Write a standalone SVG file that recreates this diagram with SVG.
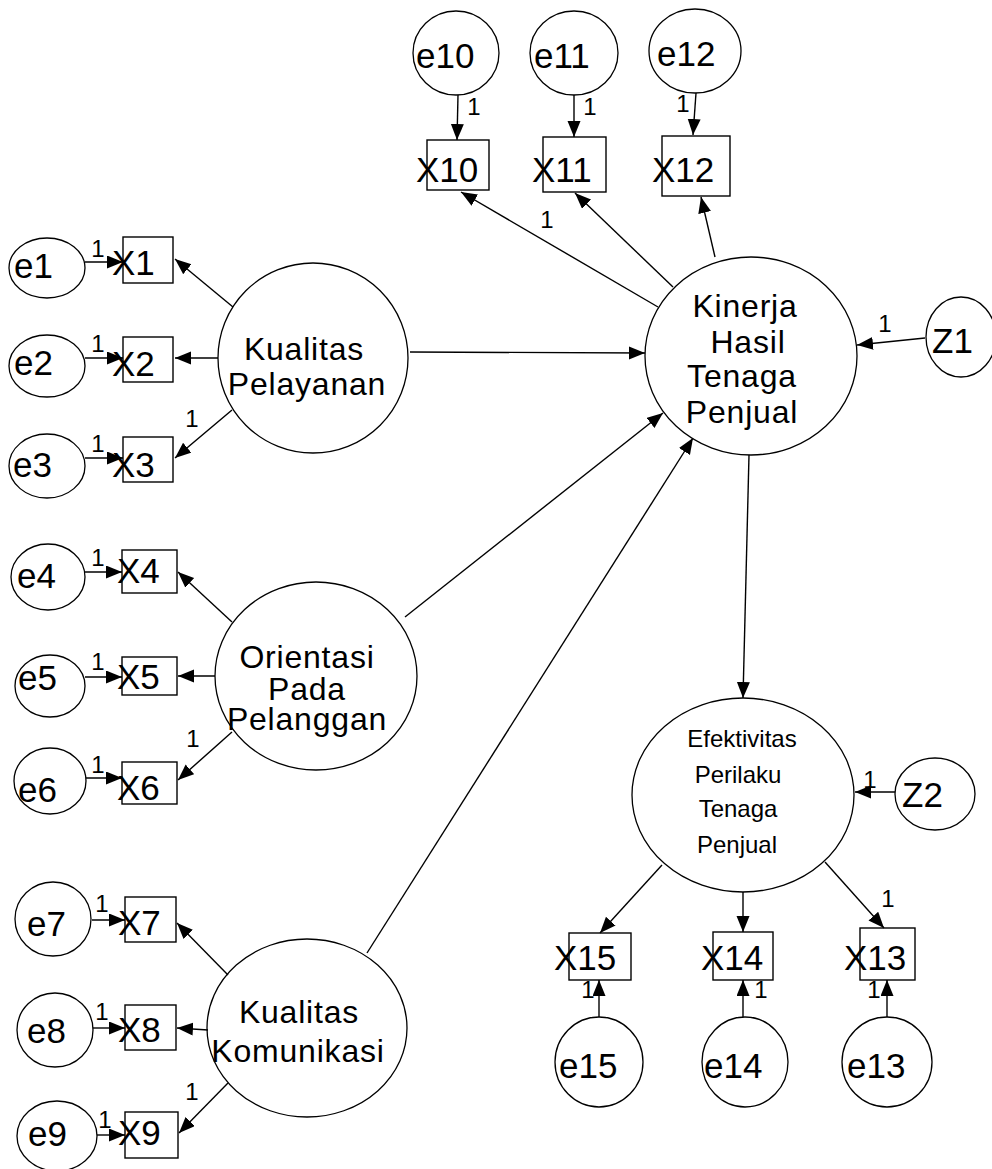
<svg xmlns="http://www.w3.org/2000/svg" width="992" height="1169" viewBox="0 0 992 1169">
  <style>
    .bg { fill: #ffffff; }
    .lat { fill: none; stroke: #000; stroke-width: 1.3; }
    .obs { fill: none; stroke: #000; stroke-width: 1.4; }
    .lbl { font-family: "Liberation Sans", Arial, sans-serif; font-size: 35px; fill: #000; }
    .big { font-family: "Liberation Sans", Arial, sans-serif; font-size: 32px; letter-spacing: 0.8px; fill: #000; text-anchor: middle; }
    .sm { font-family: "Liberation Sans", Arial, sans-serif; font-size: 24px; fill: #000; text-anchor: middle; }
    .one { font-family: "Liberation Sans", Arial, sans-serif; font-size: 24px; fill: #000; text-anchor: middle; }
    .edge { fill: none; stroke: #000; stroke-width: 1.4; marker-end: url(#arr); }
  </style>
  <defs>
    <marker id="arr" markerUnits="userSpaceOnUse" markerWidth="18" markerHeight="14" refX="16" refY="6.5" orient="auto">
      <path d="M0,0 L16,6.5 L0,13 z" fill="#000"/>
    </marker>
  </defs>
  <rect class="bg" x="0" y="0" width="992" height="1169"/>

  <!-- connectors -->
  <g id="connectors">
    <!-- error terms to indicators -->
    <line class="edge" x1="85" y1="262" x2="123" y2="262"/>
    <line class="edge" x1="85" y1="358" x2="123" y2="358"/>
    <line class="edge" x1="85" y1="458" x2="123" y2="458"/>
    <line class="edge" x1="85" y1="572" x2="122" y2="572"/>
    <line class="edge" x1="85" y1="677" x2="122" y2="677"/>
    <line class="edge" x1="86" y1="778" x2="122" y2="778"/>
    <line class="edge" x1="92" y1="920" x2="125" y2="920"/>
    <line class="edge" x1="93" y1="1028" x2="125" y2="1028"/>
    <line class="edge" x1="97" y1="1135" x2="125" y2="1135"/>
    <line class="edge" x1="458" y1="95" x2="457" y2="140"/>
    <line class="edge" x1="574" y1="95" x2="574" y2="137"/>
    <line class="edge" x1="696" y1="93" x2="693" y2="135"/>
    <line class="edge" x1="599" y1="1017" x2="599" y2="980"/>
    <line class="edge" x1="743" y1="1017" x2="743" y2="980"/>
    <line class="edge" x1="887" y1="1017" x2="887" y2="980"/>
    <!-- loadings -->
    <line class="edge" x1="233" y1="307" x2="175" y2="259"/>
    <line class="edge" x1="218" y1="358" x2="175" y2="358"/>
    <line class="edge" x1="232" y1="410" x2="175" y2="458"/>
    <line class="edge" x1="232" y1="622" x2="178" y2="572"/>
    <line class="edge" x1="215" y1="676" x2="178" y2="676"/>
    <line class="edge" x1="232" y1="732" x2="178" y2="780"/>
    <line class="edge" x1="228" y1="975" x2="177" y2="923"/>
    <line class="edge" x1="208" y1="1030" x2="177" y2="1028"/>
    <line class="edge" x1="228" y1="1083" x2="179" y2="1133"/>
    <line class="edge" x1="658" y1="307" x2="461" y2="192"/>
    <line class="edge" x1="673" y1="287" x2="575" y2="193"/>
    <line class="edge" x1="715" y1="257" x2="701" y2="197"/>
    <line class="edge" x1="662" y1="865" x2="600" y2="933"/>
    <line class="edge" x1="743" y1="892" x2="743" y2="932"/>
    <line class="edge" x1="825" y1="862" x2="884" y2="928"/>
    <!-- structural paths -->
    <line class="edge" x1="410" y1="352" x2="645" y2="353"/>
    <line class="edge" x1="405" y1="617" x2="663" y2="413"/>
    <line class="edge" x1="367" y1="953" x2="693" y2="438"/>
    <line class="edge" x1="749" y1="455" x2="743" y2="698"/>
    <line class="edge" x1="925" y1="338" x2="857" y2="345"/>
    <line class="edge" x1="895" y1="792" x2="855" y2="792"/>
    <!-- fixed parameter labels -->
    <text class="one" x="98" y="257">1</text>
    <text class="one" x="98" y="352">1</text>
    <text class="one" x="98" y="452">1</text>
    <text class="one" x="192" y="427">1</text>
    <text class="one" x="98" y="566">1</text>
    <text class="one" x="98" y="670">1</text>
    <text class="one" x="98" y="773">1</text>
    <text class="one" x="193" y="747">1</text>
    <text class="one" x="102" y="912">1</text>
    <text class="one" x="102" y="1020">1</text>
    <text class="one" x="105" y="1128">1</text>
    <text class="one" x="192" y="1100">1</text>
    <text class="one" x="474" y="115">1</text>
    <text class="one" x="590" y="115">1</text>
    <text class="one" x="683" y="112">1</text>
    <text class="one" x="547" y="228">1</text>
    <text class="one" x="885" y="332">1</text>
    <text class="one" x="870" y="788">1</text>
    <text class="one" x="888" y="907">1</text>
    <text class="one" x="588" y="998">1</text>
    <text class="one" x="761" y="998">1</text>
    <text class="one" x="874" y="998">1</text>
  </g>

  <!-- error terms -->
  <g id="e1"><ellipse class="lat" cx="47" cy="268" rx="38" ry="30"/><text class="lbl" x="14" y="278">e1</text></g>
  <g id="e2"><ellipse class="lat" cx="47" cy="366" rx="38" ry="31"/><text class="lbl" x="14" y="375">e2</text></g>
  <g id="e3"><ellipse class="lat" cx="47" cy="466" rx="38" ry="32"/><text class="lbl" x="13" y="477">e3</text></g>
  <g id="e4"><ellipse class="lat" cx="48" cy="577" rx="37" ry="33"/><text class="lbl" x="17" y="588">e4</text></g>
  <g id="e5"><ellipse class="lat" cx="50" cy="686" rx="35" ry="31"/><text class="lbl" x="18" y="690">e5</text></g>
  <g id="e6"><ellipse class="lat" cx="50" cy="781" rx="36" ry="33"/><text class="lbl" x="18" y="802">e6</text></g>
  <g id="e7"><ellipse class="lat" cx="53" cy="919" rx="38" ry="37"/><text class="lbl" x="27" y="936">e7</text></g>
  <g id="e8"><ellipse class="lat" cx="55" cy="1030" rx="38" ry="37"/><text class="lbl" x="27" y="1043">e8</text></g>
  <g id="e9"><ellipse class="lat" cx="57" cy="1136" rx="40" ry="35"/><text class="lbl" x="28" y="1146">e9</text></g>
  <g id="e10"><ellipse class="lat" cx="456" cy="53" rx="43" ry="42"/><text class="lbl" x="416" y="68">e10</text></g>
  <g id="e11"><ellipse class="lat" cx="574" cy="53" rx="44" ry="42"/><text class="lbl" x="534" y="68">e11</text></g>
  <g id="e12"><ellipse class="lat" cx="695" cy="51" rx="46" ry="42"/><text class="lbl" x="657" y="66">e12</text></g>
  <g id="e13"><ellipse class="lat" cx="887" cy="1062" rx="45" ry="45"/><text class="lbl" x="847" y="1078">e13</text></g>
  <g id="e14"><ellipse class="lat" cx="745" cy="1062" rx="43" ry="45"/><text class="lbl" x="704" y="1078">e14</text></g>
  <g id="e15"><ellipse class="lat" cx="599" cy="1062" rx="44" ry="45"/><text class="lbl" x="559" y="1078">e15</text></g>
  <g id="Z1"><ellipse class="lat" cx="961" cy="337" rx="35" ry="40"/><text class="lbl" x="932" y="353">Z1</text></g>
  <g id="Z2"><ellipse class="lat" cx="935" cy="794" rx="40" ry="36"/><text class="lbl" x="902" y="807">Z2</text></g>

  <!-- observed indicators -->
  <g id="X1"><rect class="obs" x="123" y="237" width="50" height="46"/><text class="lbl" x="112" y="275">X1</text></g>
  <g id="X2"><rect class="obs" x="123" y="337" width="50" height="45"/><text class="lbl" x="112" y="376">X2</text></g>
  <g id="X3"><rect class="obs" x="123" y="437" width="50" height="45"/><text class="lbl" x="112" y="477">X3</text></g>
  <g id="X4"><rect class="obs" x="122" y="550" width="55" height="43"/><text class="lbl" x="117" y="583">X4</text></g>
  <g id="X5"><rect class="obs" x="122" y="657" width="55" height="38"/><text class="lbl" x="117" y="689">X5</text></g>
  <g id="X6"><rect class="obs" x="122" y="762" width="55" height="42"/><text class="lbl" x="117" y="800">X6</text></g>
  <g id="X7"><rect class="obs" x="125" y="897" width="51" height="45"/><text class="lbl" x="118" y="935">X7</text></g>
  <g id="X8"><rect class="obs" x="125" y="1005" width="51" height="45"/><text class="lbl" x="118" y="1042">X8</text></g>
  <g id="X9"><rect class="obs" x="125" y="1112" width="53" height="46"/><text class="lbl" x="118" y="1145">X9</text></g>
  <g id="X10"><rect class="obs" x="427" y="140" width="62" height="50"/><text class="lbl" x="416" y="182">X10</text></g>
  <g id="X11"><rect class="obs" x="543" y="137" width="63" height="55"/><text class="lbl" x="532" y="182">X11</text></g>
  <g id="X12"><rect class="obs" x="662" y="136" width="68" height="60"/><text class="lbl" x="652" y="182">X12</text></g>
  <g id="X13"><rect class="obs" x="860" y="928" width="55" height="52"/><text class="lbl" x="844" y="970">X13</text></g>
  <g id="X14"><rect class="obs" x="713" y="932" width="60" height="48"/><text class="lbl" x="701" y="970">X14</text></g>
  <g id="X15"><rect class="obs" x="569" y="933" width="62" height="47"/><text class="lbl" x="554" y="970">X15</text></g>

  <!-- latent constructs -->
  <g id="kualitas_pelayanan">
    <ellipse class="lat" cx="313" cy="358" rx="95" ry="95"/>
    <text class="big" x="304" y="360">Kualitas</text>
    <text class="big" x="307" y="395">Pelayanan</text>
  </g>
  <g id="orientasi_pada_pelanggan">
    <ellipse class="lat" cx="316" cy="676" rx="101" ry="94"/>
    <text class="big" x="307" y="668">Orientasi</text>
    <text class="big" x="307" y="700">Pada</text>
    <text class="big" x="307" y="730">Pelanggan</text>
  </g>
  <g id="kualitas_komunikasi">
    <ellipse class="lat" cx="307" cy="1028" rx="100" ry="89"/>
    <text class="big" x="299" y="1023">Kualitas</text>
    <text class="big" x="298" y="1062">Komunikasi</text>
  </g>
  <g id="kinerja">
    <ellipse class="lat" cx="751" cy="356" rx="106" ry="99"/>
    <text class="big" x="745" y="317">Kinerja</text>
    <text class="big" x="748" y="353">Hasil</text>
    <text class="big" x="742" y="387">Tenaga</text>
    <text class="big" x="742" y="423">Penjual</text>
  </g>
  <g id="efektivitas">
    <ellipse class="lat" cx="743" cy="795" rx="111" ry="97"/>
    <text class="sm" x="742" y="747">Efektivitas</text>
    <text class="sm" x="738" y="783">Perilaku</text>
    <text class="sm" x="738" y="817">Tenaga</text>
    <text class="sm" x="737" y="853">Penjual</text>
  </g>
</svg>
